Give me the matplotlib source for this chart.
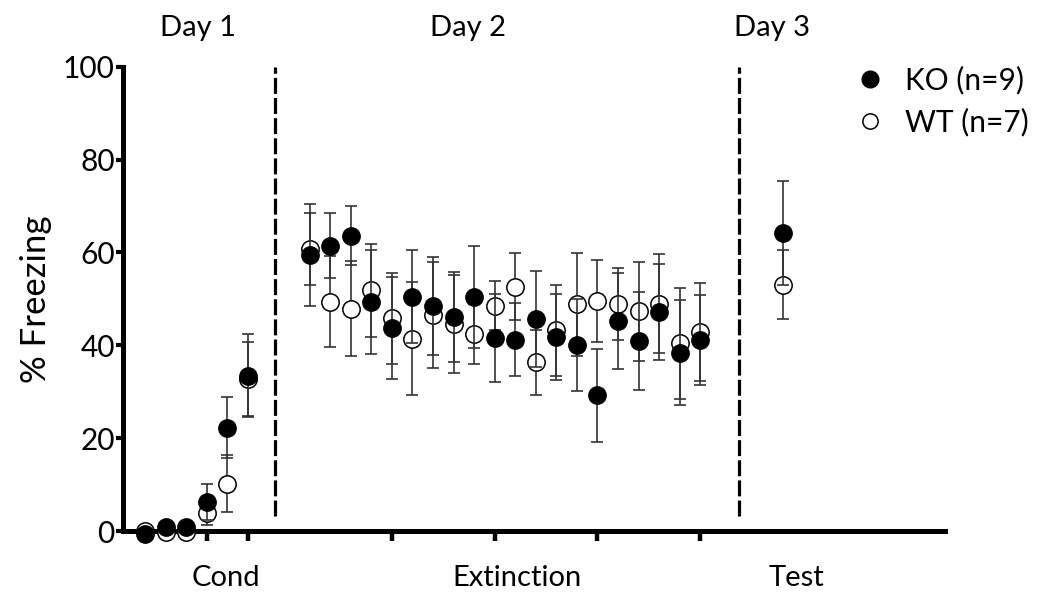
import matplotlib
matplotlib.use("Agg")
import matplotlib.pyplot as plt
from matplotlib.lines import Line2D
from matplotlib.transforms import blended_transform_factory

plt.rcParams['font.family'] = ['Lato', 'DejaVu Sans']

# trial positions: 6 conditioning trials, 20 extinction trials, 1 test
cond_x = [0, 1, 2, 3, 4, 5]
ext_x = list(range(8, 28))
test_x = [31]
trial_x = cond_x + ext_x + test_x

ko_mean = [-0.7, 0.8, 0.8, 6.3, 22.3, 33.5,
           59.4, 61.4, 63.6, 49.4, 43.8, 50.5, 48.5, 46.2, 50.5, 41.6,
           41.2, 45.7, 41.8, 40.1, 29.2, 45.2, 40.9, 47.2, 38.4, 41.2,
           64.1]
ko_sem = [0, 0, 0, 3.9, 6.6, 9.0,
          11.0, 7.0, 6.4, 11.2, 11.0, 10.0, 10.5, 9.7, 11.0, 9.5,
          7.9, 10.3, 9.2, 9.9, 10.1, 10.4, 10.5, 10.3, 11.3, 9.7,
          11.2]
wt_mean = [0, -0.1, -0.1, 3.9, 10.2, 32.8,
           60.8, 49.4, 47.9, 51.9, 45.8, 41.4, 46.6, 44.6, 42.5, 48.5,
           52.6, 36.4, 43.2, 48.8, 49.5, 48.9, 47.3, 49.0, 40.4, 42.9,
           53.1]
wt_sem = [0, 0, 0, 2.6, 6.1, 8.0,
          7.7, 9.8, 10.3, 10.0, 9.8, 12.2, 11.4, 10.6, 6.5, 5.3,
          7.2, 7.0, 9.9, 11.0, 8.8, 7.75, 10.6, 10.75, 11.9, 10.5,
          7.4]

x_ticks = [3, 5, 12, 17, 22, 27]
phase_dividers = [6.32, 28.9]
phase_names = ['Cond', 'Extinction', 'Test']
phase_name_x = [3.94, 18.1, 31.7]
day_names = ['Day 1', 'Day 2', 'Day 3']
day_name_x = [2.58, 15.7, 30.5]
legend_labels = ['KO (n=9)', 'WT (n=7)']

fig = plt.figure(figsize=(10.43, 5.96), dpi=100)
ax = fig.add_axes([0.118, 0.109, 0.788, 0.779])

err_style = dict(fmt='none', ecolor='#333333', elinewidth=1.2,
                 capsize=4.5, capthick=1.2, clip_on=False)

# WT first, KO on top (as in the original drawing order)
ax.errorbar(trial_x, wt_mean, yerr=wt_sem, zorder=2, **err_style)
ax.plot(trial_x, wt_mean, 'o', ms=12.5, mfc='white', mec='black',
        mew=1.1, zorder=3, clip_on=False)
ax.errorbar(trial_x, ko_mean, yerr=ko_sem, zorder=4, **err_style)
ax.plot(trial_x, ko_mean, 'o', ms=12.5, mfc='black', mec='black',
        zorder=5, clip_on=False)

for xd in phase_dividers:
    ax.plot([xd, xd], [3.2, 100], color='black', lw=2.3,
            linestyle=(0, (5, 1.3)), zorder=1)

ax.set_xlim(-1.07, 38.9)
ax.set_ylim(0, 100)
ax.set_yticks([0, 20, 40, 60, 80, 100])
ax.set_xticks(x_ticks)
ax.set_xticklabels([])
ax.tick_params(axis='y', direction='out', length=5, width=3,
               labelsize=21.5, pad=1)
ax.tick_params(axis='x', direction='out', length=7, width=3.2)
for side in ['top', 'right']:
    ax.spines[side].set_visible(False)
for side in ['left', 'bottom']:
    ax.spines[side].set_linewidth(3.6)
ax.set_ylabel('% Freezing', fontsize=25, labelpad=8)

trans = blended_transform_factory(ax.transData, fig.transFigure)
for name, xp in zip(phase_names, phase_name_x):
    ax.text(xp, 0.030, name, transform=trans, ha='center', va='center',
            fontsize=21)
for name, xp in zip(day_names, day_name_x):
    ax.text(xp, 0.953, name, transform=trans, ha='center', va='center',
            fontsize=21)

handles = [Line2D([], [], marker='o', ls='none', ms=12, mfc='black', mec='black'),
           Line2D([], [], marker='o', ls='none', ms=11, mfc='white', mec='black',
                  mew=1.1)]
ax.legend(handles, legend_labels, loc='upper left',
          bbox_to_anchor=(0.808, 0.91), bbox_transform=fig.transFigure,
          frameon=False, fontsize=21.5, handlelength=1.0, handletextpad=0.7,
          labelspacing=0.45, borderaxespad=0)

fig.savefig('out.png', dpi=100)
